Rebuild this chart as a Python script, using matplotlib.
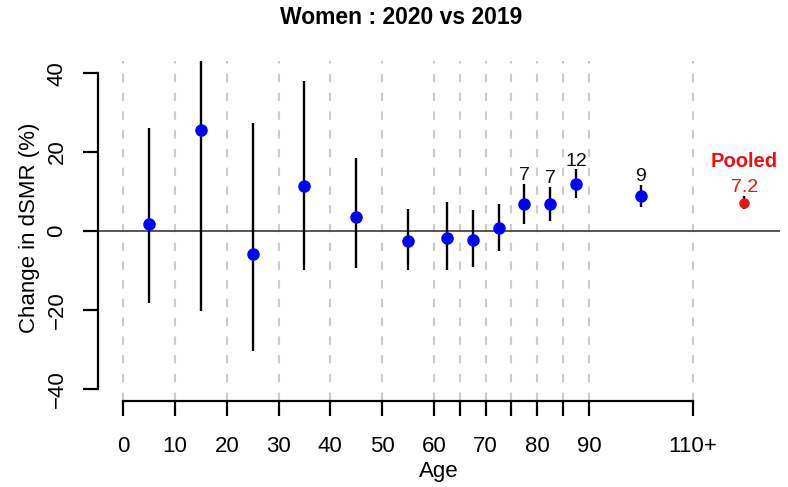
import matplotlib
matplotlib.use("Agg")
import matplotlib.pyplot as plt

plt.rcParams['font.family'] = ['Liberation Sans', 'DejaVu Sans']

# ---- data ----
ages = [5, 15, 25, 35, 45, 55, 62.5, 67.5, 72.5, 77.5, 82.5, 87.5, 100]
est = [1.7, 25.5, -5.8, 11.5, 3.5, -2.5, -1.7, -2.4, 0.7, 6.8, 6.8, 11.9, 8.9]
lower = [-18.3, -20.3, -30.3, -9.9, -9.5, -10.0, -9.8, -9.2, -5.0, 1.7, 2.5, 8.3, 6.2]
upper = [26.2, 45.0, 27.5, 38.1, 18.4, 5.7, 7.4, 5.2, 6.8, 12.0, 11.2, 15.7, 11.7]
point_labels = ["", "", "", "", "", "", "", "", "", "7", "7", "12", "9"]

pooled_x = 120
pooled_est = 7.2
pooled_lower = 5.5
pooled_upper = 8.9
pooled_label = "7.2"

xtick_pos = [0, 10, 20, 30, 40, 50, 60, 65, 70, 75, 80, 85, 90, 110]
xtick_labels = ["0", "10", "20", "30", "40", "50", "60", "", "70", "", "80", "", "90", "110+"]
ytick_pos = [-40, -20, 0, 20, 40]
ytick_labels = ["\u221240", "\u221220", "0", "20", "40"]

title = "Women : 2020 vs 2019"
xlabel = "Age"
ylabel = "Change in dSMR (%)"

# ---- figure ----
W, H = 788, 487
fig = plt.figure(figsize=(W / 100, H / 100), dpi=100)
ax = fig.add_axes([98 / W, 1 - 401.4 / H, (780 - 98) / W, (401.4 - 60.6) / H])
ax.set_xlim(-4.88, 126.88)
ax.set_ylim(-43.2, 43.2)

# dashed vertical guides
for xp in xtick_pos:
    ax.axvline(xp, color="#cccccc", lw=1.5, ls=(0, (4, 5)), zorder=0)

ax.axhline(0, color="#3a3a3a", lw=1.2, zorder=1)

# CIs and points
ax.vlines(ages, lower, upper, color="black", lw=1.7, zorder=2)
ax.plot(ages, est, "o", color="#0000ff", ms=8, zorder=3)

for x, u, lab in zip(ages, upper, point_labels):
    if lab:
        ax.annotate(lab, (x, u), xytext=(0, 2.5), textcoords="offset points",
                    ha="center", va="baseline", fontsize=14, color="#111111")

ax.vlines([pooled_x], [pooled_lower], [pooled_upper], color="black", lw=1.7, zorder=2)
ax.plot([pooled_x], [pooled_est], "o", color="#ee1111", ms=6.5, zorder=3)
ax.annotate(pooled_label, (pooled_x, pooled_upper), xytext=(0, 2.5), textcoords="offset points",
            ha="center", va="baseline", fontsize=14, color="#ee1111")
ax.annotate("Pooled", (pooled_x, pooled_upper), xytext=(0, 20.5), textcoords="offset points",
            ha="center", va="baseline", fontsize=14.5, fontweight="bold", color="#ee1111")

# axes styling (R-like)
for s in ["top", "right"]:
    ax.spines[s].set_visible(False)
ax.spines["left"].set_bounds(-40, 40)
ax.spines["bottom"].set_bounds(0, 110)
for s in ["left", "bottom"]:
    ax.spines[s].set_linewidth(1.6)

ax.set_xticks(xtick_pos)
ax.set_xticklabels(xtick_labels)
ax.set_yticks(ytick_pos)
ax.set_yticklabels(ytick_labels, rotation=90, va="center")
ax.tick_params(axis="both", direction="out", length=11, width=1.6, labelsize=16, colors="black")
ax.tick_params(axis="x", pad=14)
ax.tick_params(axis="y", pad=11)

fig.text(30 / W, 1 - 228 / H, ylabel, rotation=90, ha="center", va="center", fontsize=16)
fig.text(439 / W, 1 - 471.7 / H, xlabel, ha="center", va="center", fontsize=16)
fig.text(401 / W, 1 - 18 / H, title, ha="center", va="center", fontsize=16.5, fontweight="bold")

fig.savefig("out.png", dpi=100)
